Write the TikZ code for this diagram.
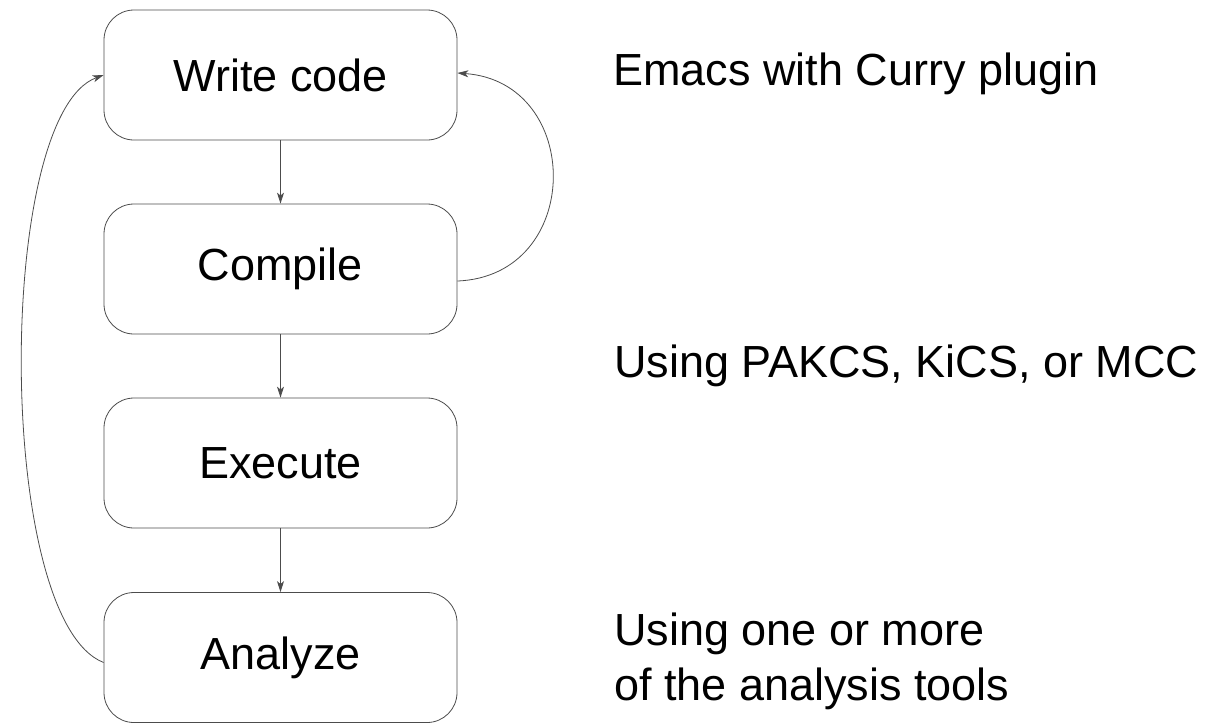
\documentclass[tikz,border=0pt]{standalone}
\usepackage{fontspec}
\setmainfont{Liberation Sans}
\usetikzlibrary{arrows.meta}
\begin{document}
\begin{tikzpicture}[x=1pt,y=-1pt,
  stepbox/.style={draw=black!70, line width=0.8pt, rounded corners=30pt,
    minimum width=353pt, minimum height=130pt, inner sep=0pt,
    font=\fontsize{45}{55}\selectfont},
  lbl/.style={anchor=west, align=left, inner sep=0pt, font=\fontsize{45}{55}\selectfont},
  conn/.style={draw=black!70, line width=0.8pt, -{Stealth[length=11pt,width=7pt,inset=3pt]}}]
\useasboundingbox (0,0) rectangle (1215,724);
\node[stepbox] (W) at (280.5,75) {Write code};
\node[stepbox] (C) at (280.5,269) {Compile};
\node[stepbox] (E) at (280.5,463) {Execute};
\node[stepbox] (A) at (280.5,657.5) {Analyze};
\node[lbl] (L1) at (613,74) {Emacs with Curry plugin};
\node[lbl] (L2) at (614,366) {Using PAKCS, KiCS, or MCC};
\node[lbl] (L3) at (614,661) {Using one or more\\of the analysis tools};
\draw[conn] (W.south) -- (C.north);
\draw[conn] (C.south) -- (E.north);
\draw[conn] (E.south) -- (A.north);
\coordinate (Aw) at ([yshift=-5pt]A.west);
\coordinate (Ww) at (W.west);
\draw[conn] (Aw) .. controls (-5,620) and (-5,115) .. (Ww);
\coordinate (Ce) at ([yshift=-12pt]C.east);
\coordinate (We) at ([yshift=2pt]W.east);
\draw[conn] (Ce) .. controls (584,276) and (584,82) .. (We);
\end{tikzpicture}
\end{document}
